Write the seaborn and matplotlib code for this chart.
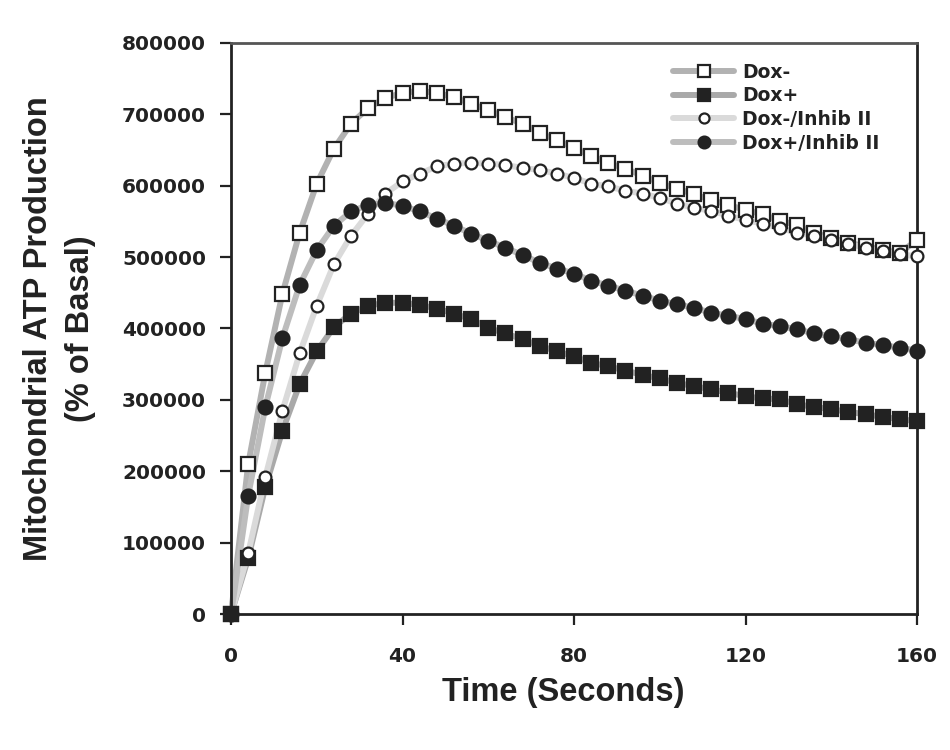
import numpy as np
import pandas as pd
import matplotlib
matplotlib.use("Agg")
import matplotlib.pyplot as plt
from matplotlib.lines import Line2D
import seaborn as sns

# time points (seconds)
time = list(range(0, 161, 4))

dox_minus = [0, 210000, 338000, 449000, 534000, 603000, 652000, 687000, 709000, 723000,
             730000, 733000, 730000, 724000, 715000, 706000, 696000, 687000, 674000, 664000,
             653000, 642000, 632000, 624000, 614000, 604000, 596000, 588000, 580000, 573000,
             566000, 560000, 551000, 545000, 534000, 527000, 520000, 515000, 510000, 506000,
             524000]
dox_plus = [0, 78000, 178000, 257000, 322000, 368000, 402000, 421000, 432000, 436000,
            436000, 433000, 428000, 421000, 413000, 401000, 393000, 385000, 376000, 368000,
            361000, 352000, 347000, 341000, 335000, 330000, 324000, 319000, 315000, 310000,
            305000, 302000, 301000, 294000, 290000, 287000, 283000, 280000, 276000, 273000,
            270000]
dox_minus_inhib = [0, 85000, 192000, 285000, 365000, 432000, 490000, 530000, 561000, 589000,
                   606000, 617000, 627000, 631000, 632000, 631000, 629000, 625000, 622000, 617000,
                   611000, 603000, 599000, 593000, 589000, 583000, 575000, 569000, 565000, 558000,
                   552000, 547000, 541000, 534000, 530000, 524000, 519000, 513000, 508000, 504000,
                   501000]
dox_plus_inhib = [0, 166000, 290000, 387000, 461000, 510000, 544000, 564000, 573000, 576000,
                  572000, 564000, 554000, 544000, 533000, 523000, 513000, 503000, 492000, 484000,
                  477000, 467000, 460000, 453000, 446000, 439000, 434000, 429000, 422000, 418000,
                  413000, 407000, 403000, 399000, 393000, 389000, 385000, 380000, 377000, 373000,
                  369000]

labels = ["Dox-", "Dox+", "Dox-/Inhib II", "Dox+/Inhib II"]
values = [dox_minus, dox_plus, dox_minus_inhib, dox_plus_inhib]

df = pd.DataFrame({
    "time": time * 4,
    "value": sum(values, []),
    "group": sum([[l] * len(time) for l in labels], []),
})

# style per series: line colour, marker, face, size
styles = {
    "Dox-": dict(line="#b2b2b2", marker="s", face="white", size=9.5),
    "Dox+": dict(line="#a9a9a9", marker="s", face="#222222", size=9.5),
    "Dox-/Inhib II": dict(line="#dadada", marker="o", face="white", size=8.5),
    "Dox+/Inhib II": dict(line="#bdbdbd", marker="o", face="#222222", size=10),
}

sns.set_style("white")
plt.rcParams["font.family"] = ["DejaVu Sans"]

fig = plt.figure(figsize=(9.5, 7.5), dpi=100)
ax = fig.add_axes([0.2432, 0.1813, 0.7221, 0.7614])

# gray connecting lines first
for lab in labels:
    sub = df[df["group"] == lab]
    sns.lineplot(data=sub, x="time", y="value", ax=ax, color=styles[lab]["line"],
                 linewidth=4.3, clip_on=False, zorder=2, legend=False)

# markers on top
for lab in labels:
    st = styles[lab]
    sub = df[df["group"] == lab]
    sns.lineplot(data=sub, x="time", y="value", ax=ax, linestyle="none",
                 marker=st["marker"], markersize=st["size"], markerfacecolor=st["face"],
                 markeredgecolor="#222222", markeredgewidth=1.6, clip_on=False,
                 zorder=3, legend=False)

ax.set_xlim(0, 160)
ax.set_ylim(0, 800000)
ax.set_xticks([0, 40, 80, 120, 160])
ax.set_yticks(np.arange(0, 800001, 100000))
ax.set_yticklabels([str(v) for v in range(0, 800001, 100000)])

for s in ["left", "bottom", "right"]:
    ax.spines[s].set_linewidth(2.0)
    ax.spines[s].set_color("#222222")
ax.spines["top"].set_linewidth(2.0)
ax.spines["top"].set_color("#555555")

ax.tick_params(axis="both", which="major", direction="out", length=8, width=1.6,
               color="#222222", labelsize=14.5, labelcolor="#222222")
ax.tick_params(axis="y", pad=10, left=True)
ax.tick_params(axis="x", pad=16, bottom=True)
for t in ax.get_xticklabels() + ax.get_yticklabels():
    t.set_fontweight("bold")

lab_font = dict(family=["Liberation Sans", "DejaVu Sans"], weight="bold", size=23.5,
                color="#222222")
ax.set_xlabel("Time (Seconds)", **lab_font)
ax.set_ylabel("Mitochondrial ATP Production\n(% of Basal)", linespacing=1.45, **lab_font)
ax.xaxis.set_label_coords(0.485, -0.11)
ax.yaxis.set_label_coords(-0.197, 0.5)

handles = [Line2D([0], [0], color=styles[l]["line"], linewidth=4.3, marker=styles[l]["marker"],
                  markersize=styles[l]["size"] * 0.85, markerfacecolor=styles[l]["face"],
                  markeredgecolor="#222222", markeredgewidth=1.6) for l in labels]
leg = ax.legend(handles, labels, loc="upper left", bbox_to_anchor=(0.63, 0.982),
                frameon=False, borderpad=0, handlelength=3.3, handletextpad=0.4,
                labelspacing=0.25, prop=dict(weight="bold", size=13.5))
for t in leg.get_texts():
    t.set_color("#222222")

fig.savefig("out.png", dpi=100)
